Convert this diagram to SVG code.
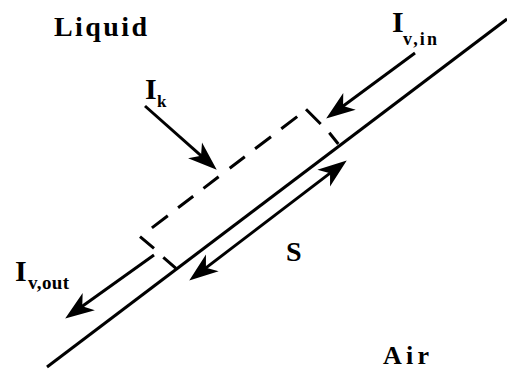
<svg xmlns="http://www.w3.org/2000/svg" width="507" height="371" viewBox="0 0 507 371">
<style>
.ln{stroke:#000;stroke-width:3;fill:none;stroke-linecap:butt}
.arr{stroke:#000;stroke-width:3;fill:none}
.t{font-family:"Liberation Serif","Times New Roman",serif;font-weight:bold;fill:#000}
</style>
<defs>
<marker id="ah" markerUnits="userSpaceOnUse" markerWidth="30" markerHeight="24" refX="20" refY="12" orient="auto-start-reverse" overflow="visible">
<path d="M29,12 L0,1.5 L8,12 L0,22.5 Z" fill="#000"/>
</marker>
</defs>
<rect width="507" height="371" fill="#fff"/>
<g id="interface">
<line class="ln" x1="47" y1="367" x2="507" y2="19"/>
</g>
<g id="control-volume">
<path class="ln" d="M140,236.7 L154,248.3 M163.3,257.3 L176,268.3 M151.9,227.9 L167.8,215.7 M178.1,207.8 L193.2,196.3 M203.5,188.4 L218.6,176.8 M229.7,168.3 L244.8,156.7 M255.1,148.8 L271,136.7 M281.3,128.8 L297.2,116.6 M306,109.3 L320.7,124 M329.3,132.7 L338.3,144"/>
</g>
<g id="connectors">
<line class="arr" x1="145" y1="106" x2="210" y2="163.7" marker-end="url(#ah)"/>
<line class="arr" x1="415" y1="53" x2="333.4" y2="113.2" marker-end="url(#ah)"/>
<line class="arr" x1="154" y1="255" x2="72.5" y2="313.3" marker-end="url(#ah)"/>
<line class="arr" x1="196.4" y1="275.1" x2="339.6" y2="165.9" marker-start="url(#ah)" marker-end="url(#ah)"/>
</g>
<g id="label-liquid"><text class="t" x="54" y="36" font-size="28" textLength="93" lengthAdjust="spacing">Liquid</text></g>
<g id="label-air"><text class="t" x="383" y="364" font-size="26" textLength="46" lengthAdjust="spacing">Air</text></g>
<g id="label-s"><text class="t" x="286" y="261" font-size="28">S</text></g>
<g id="label-ik"><text class="t" font-size="30"><tspan x="145" y="99">I</tspan><tspan x="157" y="107" font-size="17">k</tspan></text></g>
<g id="label-ivin"><text class="t" font-size="30"><tspan x="392" y="32">I</tspan><tspan x="403" y="44.5" font-size="18" textLength="34" lengthAdjust="spacing">v,in</tspan></text></g>
<g id="label-ivout"><text class="t" font-size="30"><tspan x="15" y="281">I</tspan><tspan x="28" y="289" font-size="19" textLength="41" lengthAdjust="spacing">v,out</tspan></text></g>
</svg>
